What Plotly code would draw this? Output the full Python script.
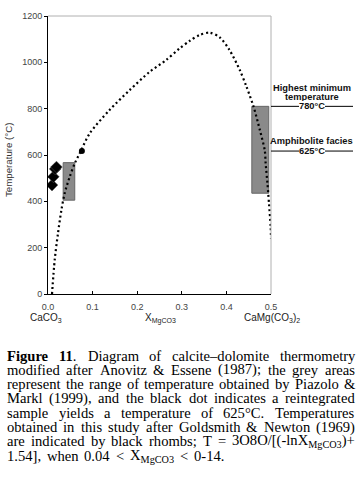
import re
import plotly.graph_objects as go

# ---------------- data ----------------
curve_x = [0.009, 0.015, 0.0224, 0.030, 0.0374, 0.0487, 0.060, 0.071, 0.0935, 0.138,
           0.183, 0.228, 0.265, 0.295, 0.318, 0.340, 0.3626, 0.385, 0.407, 0.430,
           0.445, 0.461, 0.475, 0.486, 0.488, 0.492, 0.4955, 0.4993, 0.500]
curve_t = [0, 147, 262, 362, 435, 506, 564, 607, 693, 794,
           880, 959, 1010, 1060, 1093, 1118, 1128, 1108, 1053, 967,
           895, 808, 708, 620, 564, 478, 391, 290, 240]

rhomb_x = [0.009, 0.012, 0.016, 0.019]
rhomb_t = [470, 506, 540, 548]

dot_x = [0.076]
dot_t = [617]

box_left_x = [0.034, 0.060]
box_left_t = [405, 567]
box_right_x = [0.457, 0.495]
box_right_t = [435, 810]

label_hi_t = 810
label_amph_t = 617

x_ticks = [0.0, 0.1, 0.2, 0.3, 0.4, 0.5]
y_ticks = [0, 200, 400, 600, 800, 1000, 1200]

caption_lines = [
    ["<b>Figure</b>", "<b>11</b>.", "Diagram", "of", "calcite–dolomite", "thermometry"],
    ["modified", "after", "Anovitz", "&", "Essene", "(1987);", "the", "grey", "areas"],
    ["represent", "the", "range", "of", "temperature", "obtained", "by", "Piazolo", "&"],
    ["Markl", "(1999),", "and", "the", "black", "dot", "indicates", "a", "reintegrated"],
    ["sample", "yields", "a", "temperature", "of", "625°C.", "Temperatures"],
    ["obtained", "in", "this", "study", "after", "Goldsmith", "&", "Newton", "(1969)"],
    ["are", "indicated", "by", "black", "rhombs;", "T", "=", "3O8O/[(-lnX<sub>MgCO3</sub>)+"],
    ["1.54],", "when", "0.04", "<", "X<sub>MgCO3</sub>", "<", "0-14."],
]

# ---------------- layout geometry ----------------
W, H = 361, 494
ML, MT = 48, 16
PW, PH = 223, 278
MR = W - ML - PW
MB = H - MT - PH


def px(x):
    """window pixel x -> paper x"""
    return (x - ML) / PW


def py(y):
    """window pixel y -> paper y"""
    return (MT + PH - y) / PH


# Times (Liberation Serif) advance widths /1000
TIMES = {' ': 250, '&': 778, '(': 333, ')': 333, '+': 564, ',': 250, '-': 333, '.': 250,
         '/': 278, ':': 278, ';': 278, '<': 564, '=': 564, '[': 333, ']': 333, '°': 400,
         '–': 500}
for d in '0123456789':
    TIMES[d] = 500
TIMES.update(dict(A=722, B=667, C=667, D=722, E=611, F=556, G=722, H=722, I=333, J=389,
                  K=722, L=611, M=889, N=722, O=722, P=556, Q=722, R=667, S=556, T=611,
                  U=722, V=722, W=944, X=722, Y=722, Z=611))
TIMES.update(dict(a=444, b=500, c=444, d=500, e=444, f=333, g=500, h=500, i=278, j=278,
                  k=500, l=278, m=778, n=500, o=500, p=500, q=500, r=333, s=389, t=278,
                  u=500, v=500, w=722, x=500, y=500, z=444))
TIMES_B = dict(TIMES)
TIMES_B.update(dict(F=611, u=556, r=444))

FS = 14.6


def text_width(markup, fs=FS):
    w = 0.0
    for tok in re.split(r'(<b>.*?</b>|<sub>.*?</sub>)', markup):
        if tok.startswith('<b>'):
            w += sum(TIMES_B.get(c, 500) for c in tok[3:-4])
        elif tok.startswith('<sub>'):
            w += 0.7 * sum(TIMES.get(c, 500) for c in tok[5:-6])
        else:
            w += sum(TIMES.get(c, 500) for c in tok)
    return w * fs / 1000.0


fig = go.Figure()

# grey boxes
for bx, bt in [(box_left_x, box_left_t), (box_right_x, box_right_t)]:
    fig.add_trace(go.Scatter(
        x=[bx[0], bx[1], bx[1], bx[0], bx[0]],
        y=[bt[0], bt[0], bt[1], bt[1], bt[0]],
        mode='lines', fill='toself', fillcolor='#8a8a8a',
        line=dict(color='#666666', width=1), hoverinfo='skip', showlegend=False))

# solvus curve
fig.add_trace(go.Scatter(
    x=curve_x, y=curve_t, mode='lines',
    line=dict(color='black', width=2.2, dash='2px,2.8px', shape='spline', smoothing=0.8),
    showlegend=False))

# rhombs
fig.add_trace(go.Scatter(
    x=rhomb_x, y=rhomb_t, mode='markers',
    marker=dict(symbol='diamond', size=9, color='black',
                line=dict(color='#555', width=0.5)),
    showlegend=False))

# black dot
fig.add_trace(go.Scatter(
    x=dot_x, y=dot_t, mode='markers',
    marker=dict(symbol='circle', size=6, color='black'), showlegend=False))

shapes = [
    dict(type='line', xref='paper', yref='paper', x0=0, x1=1, y0=1, y1=1,
         line=dict(color='#b0b0b0', width=1)),
    dict(type='line', xref='paper', yref='paper', x0=1, x1=1, y0=0, y1=1,
         line=dict(color='#b0b0b0', width=1)),
    dict(type='line', xref='paper', yref='y', x0=1, x1=px(353), y0=label_hi_t, y1=label_hi_t,
         line=dict(color='black', width=1)),
    dict(type='line', xref='paper', yref='y', x0=1, x1=px(353), y0=label_amph_t, y1=label_amph_t,
         line=dict(color='black', width=1)),
]

annotations = []
lab_font = dict(family='Arial, Liberation Sans', size=9.3, color='#111')
lab_cx = px(311.5)
for txt, y in [("<b>Highest minimum</b>", 88), ("<b>temperature</b>", 97.5),
               ("<b>Amphibolite facies</b>", 140.5)]:
    annotations.append(dict(text=txt, xref='paper', yref='paper', x=lab_cx, y=py(y),
                            showarrow=False, font=lab_font, xanchor='center', yanchor='middle',
                            borderpad=0, borderwidth=0))
for txt, t in [("<b>780°C</b>", label_hi_t), ("<b>625°C</b>", label_amph_t)]:
    annotations.append(dict(text=txt, xref='paper', yref='y', x=lab_cx, y=t,
                            showarrow=False, font=lab_font, xanchor='center', yanchor='middle',
                            bgcolor='white', borderpad=0, borderwidth=0))

# axis title and x labels
annotations.append(dict(text="Temperature (°C)", xref='paper', yref='paper', x=px(8), y=py(160),
                        textangle=-90, showarrow=False,
                        font=dict(family='Arial, Liberation Sans', size=9.7, color='#333'),
                        xanchor='center', yanchor='middle', borderpad=0, borderwidth=0))
xl_font = dict(family='Arial, Liberation Sans', size=10, color='#222')
for txt, x in [("CaCO<sub>3</sub>", 46), ("X<sub>MgCO3</sub>", 160),
               ("CaMg(CO<sub>3</sub>)<sub>2</sub>", 272)]:
    annotations.append(dict(text=txt, xref='paper', yref='paper', x=px(x), y=py(318),
                            showarrow=False, font=xl_font, xanchor='center', yanchor='middle'))

# caption, justified word by word
cap_font = dict(family='Liberation Serif, Times New Roman, serif', size=FS, color='black')
LEFT, RIGHT = 7, 355
for i, words in enumerate(caption_lines):
    yline = 355.5 + i * 14.3
    widths = [text_width(w) for w in words]
    if i < len(caption_lines) - 1:
        gap = (RIGHT - LEFT - sum(widths)) / (len(words) - 1)
    else:
        gap = TIMES[' '] * FS / 1000.0 * 1.6
    x = LEFT
    for w, wd in zip(words, widths):
        annotations.append(dict(text=w, xref='paper', yref='paper', x=px(x), y=py(yline),
                                showarrow=False, font=cap_font, xanchor='left',
                                yanchor='middle', borderpad=0, borderwidth=0))
        x += wd + gap

fig.update_layout(
    width=W, height=H,
    margin=dict(l=ML, r=MR, t=MT, b=MB, pad=0),
    paper_bgcolor='white', plot_bgcolor='white',
    shapes=shapes, annotations=annotations,
    xaxis=dict(range=[0, 0.5], tickvals=x_ticks, ticktext=[f"{v:.1f}" for v in x_ticks],
               showgrid=False, zeroline=False, showline=True, linecolor='black', linewidth=1,
               ticks='inside', ticklen=3, tickcolor='black', ticklabelstandoff=4,
               tickfont=dict(family='Arial, Liberation Sans', size=9, color='#444')),
    yaxis=dict(range=[0, 1200], tickvals=y_ticks,
               showgrid=False, zeroline=False, showline=True, linecolor='black', linewidth=1,
               ticks='outside', ticklen=3, tickcolor='black',
               tickfont=dict(family='Arial, Liberation Sans', size=9, color='#444')),
)

# remove the default 8px page margin so the figure fills the window exactly
fig.write_html("out.html", config={'displayModeBar': False},
               post_script="document.body.style.margin='0';")
